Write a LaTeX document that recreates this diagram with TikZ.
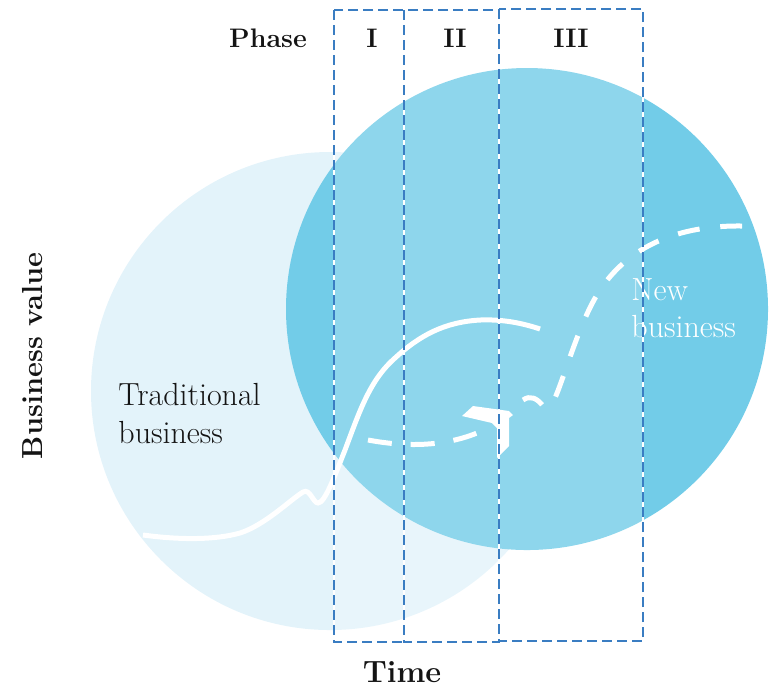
\documentclass[tikz,border=0pt]{standalone}
\usetikzlibrary{positioning}
\definecolor{oldBiz}{HTML}{E3F3FA}
\definecolor{newBiz}{HTML}{72CCE8}
\definecolor{phaseBlue}{HTML}{3A7DC2}
\definecolor{inkBlack}{HTML}{141414}

\begin{document}
\begin{tikzpicture}[x=0.5pt,y=-0.5pt,
    trend/.style={white,line width=2.5pt},
    future/.style={white,line width=2.5pt,dash pattern=on 11pt off 10.4pt},
    phasebox/.style={phaseBlue,line width=1pt,dash pattern=on 5pt off 2.5pt},
    bizlbl/.style={font=\fontsize{16}{19}\selectfont,inner sep=0pt,anchor=base west},
    axislbl/.style={font=\bfseries,inner sep=0pt,anchor=base,text=inkBlack},
    phaselbl/.style={font=\fontsize{13.4}{16}\selectfont\bfseries,inner sep=0pt,
                     anchor=base,text=inkBlack}]

    \useasboundingbox (0,0) rectangle (779,693);

    % Circles
    \fill[oldBiz] (330,391) circle [radius=239];
    \fill[newBiz] (527,309) circle [radius=241];

    % Traditional business curve
    \draw[trend] (143,535) .. controls (180,540) and (215,540) .. (240,533)
      .. controls (265,525) and (290,500) .. (303,492)
      .. controls (310,488) and (313,503) .. (318,503)
      .. controls (325,503) and (335,475) .. (345,450)
      .. controls (360,410) and (370,380) .. (395,358)
      .. controls (420,335) and (445,322) .. (480,320)
      .. controls (505,319) and (525,324) .. (540,329);

    % New business curve
    \draw[future,dash pattern=on 12pt off 9.5pt]
      (368,440) .. controls (400,446) and (440,448) .. (477,433);
    \fill[white] (473,406) -- (509,411) -- (513,415) -- (509,418)
      -- (509,446) -- (497,458) -- (497,428) -- (492,423)
      -- (462,416) -- cycle;
    \draw[future] (523,400) .. controls (530,395) and (537,398) .. (543,406)
      .. controls (546,409) and (550,410) .. (555,398)
      .. controls (565,375) and (580,320) .. (600,290)
      .. controls (625,252) and (670,225) .. (742,226);

    % Region labels
    \node[bizlbl,text=inkBlack] (trad) at (118,405) {Traditional};
    \node[bizlbl,text=inkBlack] (tradb) at ([yshift=-19pt]trad.base west) {business};
    \node[bizlbl,text=white] (new) at (631,300) {New};
    \node[bizlbl,text=white] (newb) at ([yshift=-18.5pt]new.base west) {business};

    % Phases
    \foreach \xa/\xb/\ya/\yb in {334/404/10/642,404/499/10/642,499/643/9/641} {
      \fill[white,opacity=0.2] (\xa,\ya) rectangle (\xb,\yb);
      \draw[white,line width=0.7pt] (\xa,\ya) rectangle (\xb,\yb);
      \draw[phasebox] (\xa,\ya) rectangle (\xb,\yb);
    }
    \node[phaselbl] (phase) at (268,47) {Phase};
    \node[phaselbl] (ph1) at (372,47) {I};
    \node[phaselbl] (ph2) at (455,47) {II};
    \node[phaselbl] (ph3) at (571,47) {III};

    % Axes
    \node[axislbl,font=\fontsize{15.4}{18}\selectfont\bfseries] (time) at (402,682) {Time};
    \node[axislbl,font=\fontsize{14.5}{18}\selectfont\bfseries,rotate=90] (value) at (42,356) {Business value};
\end{tikzpicture}
\end{document}
